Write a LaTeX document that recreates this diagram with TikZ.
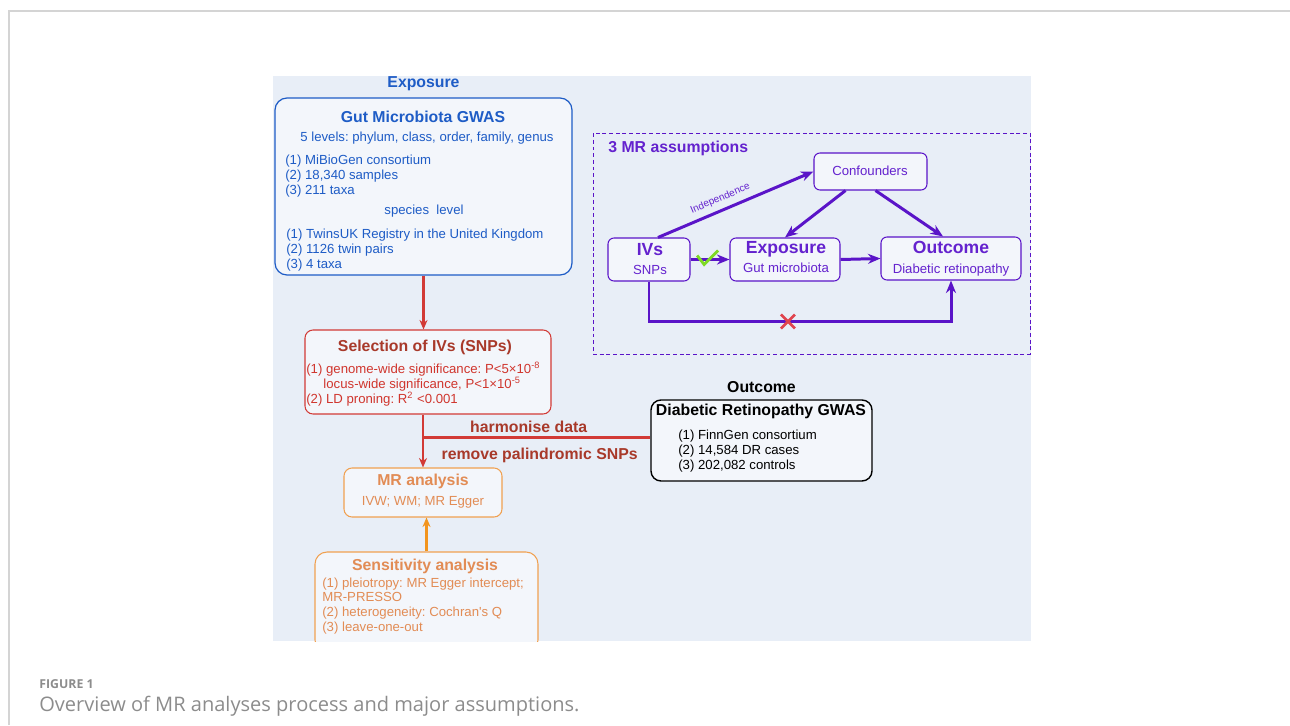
\documentclass[tikz,border=0pt]{standalone}
\usepackage{fontspec}
\setmainfont{Liberation Sans}
\newfontfamily\capfont{Open Sans}
\usetikzlibrary{positioning,fit,arrows.meta}

\definecolor{panelbg}{HTML}{E8EEF7}
\definecolor{boxbg}{HTML}{F3F6FB}
\definecolor{framegray}{HTML}{D4D4D4}
\definecolor{capgray}{HTML}{8C8C8C}
\definecolor{mrblue}{HTML}{1E5CC6}
\definecolor{mrred}{HTML}{D23A36}
\definecolor{mrdarkred}{HTML}{A8392A}
\definecolor{mrredtext}{HTML}{D0362E}
\definecolor{mrorange}{HTML}{F0A050}
\definecolor{mrorangearr}{HTML}{F2941E}
\definecolor{mrorangetext}{HTML}{E28C55}
\definecolor{mrpurple}{HTML}{5A14C8}
\definecolor{mrpurpletext}{HTML}{6422CE}
\definecolor{checkgreen}{HTML}{7ED925}
\definecolor{crossred}{HTML}{E0444E}

\tikzset{box/.style={draw,fill=boxbg,inner sep=0pt,line width=0.6pt,rounded corners=2mm},
pbox/.style={box,draw=mrpurple,rounded corners=1.2mm}}
\tikzstyle{redarrow}    = [line width=1.5pt,draw=mrred,->,>={Stealth[length=1.9mm,width=1.6mm]}]
\tikzstyle{orangearrow} = [line width=1.5pt,draw=mrorangearr,->,>={Stealth[length=1.9mm,width=1.6mm]}]
\tikzstyle{purplearrow} = [line width=1.7pt,draw=mrpurple,->,>={Stealth[length=2.5mm,width=2mm]}]

\begin{document}
\frenchspacing
\begin{tikzpicture}[x=0.2mm,y=-0.2mm,font=\fontsize{7.5}{8.5}\selectfont,
			txt/.style={inner sep=0pt},
			ttl/.style={inner sep=0pt,font=\fontsize{9}{10}\selectfont\bfseries},
			big/.style={font=\fontsize{10}{11}\selectfont\bfseries}]

		\useasboundingbox (0,0) rectangle (1290,725);
		\draw[framegray,line width=0.85pt] (9,725) -- (9,11) -- (1290,11);
		\fill[panelbg] (273,76) rectangle (1031,641);

		% exposure
		\node[box,draw=mrblue,line width=0.7pt,rounded corners=2.4mm,fit={(275,98) (572,275)}] (gut) {};
		\node[ttl,text=mrblue,above=1.3mm of gut] (explbl) {Exposure};
		\node[ttl,text=mrblue] (gutttl) at (423,117) {Gut Microbiota GWAS};
		\node[txt,text=mrblue] (gutlev) at (427,138) {5 levels: phylum, class, order, family, genus};
		\node[txt,text=mrblue,anchor=west,align=left] (gutmib) at (285,176) {(1) MiBioGen consortium\\(2) 18,340 samples\\(3) 211 taxa};
		\node[txt,text=mrblue] (gutspe) at (424,211) {species\ \ level};
		\node[txt,text=mrblue,anchor=west,align=left] (guttwin) at (286,250) {(1) TwinsUK Registry in the United Kingdom\\(2) 1126 twin pairs\\(3) 4 taxa};

		% selection
		\node[box,draw=mrred,rounded corners=1.6mm,fit={(305,330) (551,414)}] (sel) {};
		\node[ttl,text=mrdarkred] (selttl) at (425,347) {Selection of IVs (SNPs)};
		\node[txt,text=mrredtext,anchor=west,align=left] (selcrit) at (306,384) {(1) genome-wide significance: P<5×10\textsuperscript{-8}\\\hspace*{1.3em}locus-wide significance, P<1×10\textsuperscript{-5}\\(2) LD proning: R\textsuperscript{2} <0.001};

		% MR analysis
		\node[box,draw=mrorange,rounded corners=1.6mm,fit={(344,468) (502,517)}] (mr) {};
		\node[ttl,text=mrorangetext] (mrttl) at (423,481) {MR analysis};
		\node[txt,text=mrorangetext] (mrmeth) at (423,502) {IVW; WM; MR Egger};

		\begin{scope}
			\clip (273,76) rectangle (1031,641);
			\node[box,draw=mrorange,rounded corners=2.4mm,fit={(315,552) (538,652)}] (sens) {};
		\end{scope}
		\node[ttl,text=mrorangetext] (sensttl) at (425,566) {Sensitivity analysis};
		\node[txt,text=mrorangetext,anchor=west,align=left] (sensitems) at (322,606) {(1) pleiotropy: MR Egger intercept;\\MR-PRESSO\\(2) heterogeneity: Cochran\textquotesingle s Q\\(3) leave-one-out};

		% outcome
		\node[box,draw=black,line width=0.8pt,fit={(651,400) (872,481)}] (dr) {};
		\node[ttl,above=1.3mm of dr] (outlbl) {Outcome};
		\node[ttl] (drttl) at (761,411) {Diabetic Retinopathy GWAS};
		\node[txt,anchor=west,align=left] (dritems) at (678,451) {(1) FinnGen consortium\\(2) 14,584 DR cases\\(3) 202,082 controls};

		\draw[redarrow] (gut.south) -- (gut.south |- sel.north);
		\draw[redarrow] (sel.south -| mr.north) -- (mr.north);
		\draw[mrred,line width=1.5pt] ([yshift=0.6mm]dr.west) -- ([yshift=0.6mm]dr.west -| mr.north)
			node[pos=0.535,above=2pt,ttl,text=mrdarkred] (harm) {harmonise data}
			node[pos=0.487,below=5pt,ttl,text=mrdarkred] (palin) {remove palindromic SNPs};
		\draw[orangearrow] (sens.north) -- (sens.north |- mr.south);

		% 3 MR assumptions
		\node[draw=mrpurple,dash pattern=on 2.2pt off 1.6pt,line width=0.5pt,inner sep=0pt,fit={(593,133) (1030,354)}] (assum) {};
		\node[ttl,text=mrpurpletext,anchor=west] (assumttl) at (608,148) {3 MR assumptions};
		\node[pbox,fit={(814,153) (927,190)}] (conf) {};
		\node[pbox,fit={(608,238) (690,281)}] (ivs) {};
		\node[pbox,fit={(730,238) (840,281)}] (expo) {};
		\node[pbox,fit={(881,237) (1021,280)}] (outc) {};
		\node[txt,text=mrpurpletext] (conftxt) at (870,171) {Confounders};
		\node[ttl,big,text=mrpurpletext] (ivsttl) at (650,250) {IVs};
		\node[txt,text=mrpurpletext] (ivssub) at (650,270) {SNPs};
		\node[ttl,big,text=mrpurpletext] (expottl) at (786,249) {Exposure};
		\node[txt,text=mrpurpletext] (exposub) at (786,268) {Gut microbiota};
		\node[ttl,big,text=mrpurpletext] (outcttl) at (951,247) {Outcome};
		\node[txt,text=mrpurpletext] (outcsub) at (951,270) {Diabetic retinopathy};

		\draw[purplearrow] ([xshift=1.8mm]ivs.north) -- (conf.west)
			node[pos=0.43,sloped,above=3pt,inner sep=0pt,text=mrpurpletext,font=\fontsize{5.7}{6}\selectfont] (indep) {Independence};
		\draw[purplearrow] ([xshift=-5mm]conf.south) -- (expo.north);
		\draw[purplearrow] ([xshift=1mm]conf.south) -- ([xshift=-1.6mm]outc.north);
		\draw[purplearrow] (ivs.east) -- (expo.west);
		\draw[purplearrow] (expo.east) -- (outc.west);
		\draw[purplearrow] (ivs.south) -- ++(0,40) coordinate (bend) -| (outc.south);

		\path (ivs.east) -- (expo.west) coordinate[pos=0.35] (chk);
		\draw[checkgreen,line width=1.6pt] (chk) ++(-7,-4) -- ++(7,9) -- ++(14,-14);
		\path (bend) -- (bend -| outc.south) coordinate[pos=0.46] (cross);
		\draw[crossred,line width=1.5pt] (cross) ++(-7,-7) -- ++(14,14) (cross) ++(-7,7) -- ++(14,-14);

		% caption
		\node[anchor=west,inner sep=0pt,text=capgray,font=\capfont\fontsize{7}{9}\selectfont\bfseries] (figlbl) at (39,684) {FIGURE 1};
		\node[anchor=west,inner sep=0pt,text=capgray,font=\capfont\fontsize{11.4}{13}\selectfont] (figcap) at (39,706) {Overview of MR analyses process and major assumptions.};
	\end{tikzpicture}
\end{document}
